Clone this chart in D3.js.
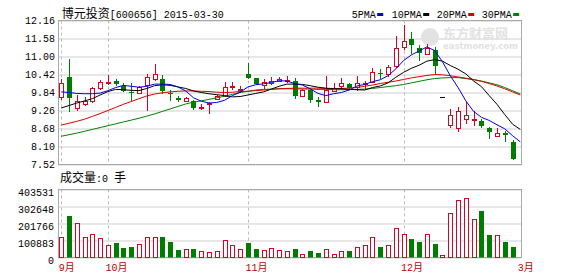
<!DOCTYPE html>
<html>
<head>
<meta charset="utf-8">
<script src="https://cdn.jsdelivr.net/npm/d3@7"></script>
<style>
  body { margin: 0; background: #fff; }
  text { font-family: "Liberation Mono", "Noto Sans CJK SC", monospace; font-size: 10px; }
  .axis .domain { display: none; }
  .axis line { stroke: #cfcfcf; }
  .axis text { fill: #000; }
</style>
</head>
<body>
<svg id="chart" width="578" height="276"></svg>
<script>

// Daily candles (59 trading days)
var opens  = [9.69, 10.33, 9.34, 9.47, 9.57, 9.98, 10.16, 10.22, 10.06, 9.87,
              9.82, 10.09, 10.27, 10.27, 9.84, 9.65, 9.58, 9.57, 9.34, 9.47,
              9.63, 9.73, 10.02, 9.93, 10.44, 10.30, 10.09, 10.14, 10.21, 10.22,
              10.22, 9.74, 9.93, 9.61, 9.53, 9.90, 10.06, 10.11, 10.01, 10.13,
              10.19, 10.46, 10.44, 10.69, 11.30, 11.57, 11.27, 11.08, 11.22, 9.69,
              8.80, 8.71, 8.97, 8.95, 8.92, 8.71, 8.44, 8.52, 8.26];
var highs  = [10.28, 10.92, 9.77, 9.71, 10.03, 10.25, 10.41, 10.27, 10.14, 10.14,
              10.05, 10.44, 10.76, 10.41, 9.93, 9.73, 9.69, 9.60, 9.48, 9.52,
              9.77, 10.17, 10.19, 10.05, 10.80, 10.32, 10.27, 10.33, 10.35, 10.37,
              10.30, 9.95, 9.98, 9.69, 10.37, 10.14, 10.30, 10.16, 10.37, 10.22,
              10.62, 10.59, 10.72, 11.65, 12.00, 11.79, 11.38, 11.40, 11.30, 9.69,
              9.30, 9.37, 9.54, 9.24, 8.97, 8.72, 8.71, 8.60, 8.30];
var lows   = [9.60, 9.21, 9.26, 9.41, 9.50, 9.93, 10.09, 10.05, 9.87, 9.57,
              9.79, 9.26, 10.22, 9.80, 9.55, 9.52, 9.52, 9.28, 9.29, 9.16,
              9.61, 9.71, 9.93, 9.82, 10.27, 10.09, 9.95, 10.09, 10.17, 10.14,
              9.63, 9.71, 9.50, 9.36, 9.50, 9.85, 9.93, 9.93, 9.89, 9.95,
              10.16, 10.27, 10.33, 10.63, 11.22, 11.08, 10.87, 11.04, 10.44, 9.69,
              8.71, 8.58, 8.84, 8.76, 8.71, 8.33, 8.41, 8.23, 7.66];
var closes = [10.14, 9.66, 9.55, 9.57, 9.98, 10.17, 10.19, 10.11, 9.90, 9.85,
              10.01, 10.35, 10.44, 9.90, 9.82, 9.61, 9.66, 9.34, 9.37, 9.50,
              9.73, 10.03, 10.05, 9.95, 10.32, 10.12, 10.17, 10.22, 10.27, 10.25,
              9.73, 9.93, 9.61, 9.52, 9.93, 10.00, 10.16, 10.00, 10.16, 10.16,
              10.49, 10.43, 10.65, 11.29, 11.51, 11.36, 11.11, 11.29, 10.68, 9.69,
              9.12, 9.24, 9.13, 8.97, 8.76, 8.58, 8.55, 8.47, 7.69];
var volumes = [122600, 247000, 205700, 120700, 138500, 114700, 73200, 87000, 57400, 63300,
               79100, 120700, 120700, 122600, 93000, 43500, 49500, 49500, 37600, 31600,
               41500, 102900, 73200, 49500, 87000, 49500, 43500, 55400, 43500, 39600,
               49500, 23700, 39600, 25700, 49500, 23700, 37600, 39600, 61300, 73200,
               118700, 63300, 73200, 172100, 138500, 108800, 93000, 138500, 79100, 17800,
               263100, 340200, 352100, 227500, 277000, 132500, 132500, 93000, 63300];

// Moving averages (60 slots, the last one is today with no trade)
var ma5  = [9.86, 9.84, 9.81, 9.80, 9.80, 9.82, 9.90, 10.00, 10.07, 10.04,
            10.01, 10.04, 10.11, 10.11, 10.10, 10.02, 9.89, 9.67, 9.56, 9.50,
            9.52, 9.59, 9.74, 9.85, 10.02, 10.09, 10.12, 10.16, 10.22, 10.21,
            10.13, 10.08, 9.96, 9.81, 9.74, 9.80, 9.84, 9.92, 10.05, 10.10,
            10.19, 10.25, 10.38, 10.60, 10.87, 11.05, 11.18, 11.31, 11.19, 10.83,
            10.38, 10.00, 9.57, 9.23, 9.04, 8.94, 8.80, 8.67, 8.45, 8.25];
var ma10 = [9.34, 9.42, 9.50, 9.57, 9.64, 9.76, 9.87, 9.94, 9.93, 9.91,
            9.90, 9.97, 10.06, 10.09, 10.07, 10.02, 9.97, 9.89, 9.84, 9.80,
            9.77, 9.74, 9.70, 9.71, 9.76, 9.81, 9.86, 9.95, 10.04, 10.11,
            10.11, 10.10, 10.06, 10.01, 9.98, 9.96, 9.96, 9.94, 9.93, 9.92,
            10.00, 10.05, 10.15, 10.33, 10.49, 10.62, 10.72, 10.85, 10.90, 10.85,
            10.71, 10.59, 10.44, 10.21, 10.03, 9.74, 9.46, 9.13, 8.82, 8.65];
var ma20 = [8.79, 8.85, 8.91, 8.98, 9.07, 9.16, 9.26, 9.36, 9.46, 9.55,
            9.64, 9.73, 9.79, 9.83, 9.86, 9.88, 9.89, 9.89, 9.88, 9.87,
            9.85, 9.84, 9.85, 9.87, 9.88, 9.90, 9.92, 9.94, 9.96, 9.97,
            9.98, 9.98, 9.98, 9.98, 9.97, 9.97, 9.97, 9.98, 10.00, 10.04,
            10.08, 10.13, 10.17, 10.21, 10.26, 10.31, 10.35, 10.39, 10.42, 10.41,
            10.38, 10.34, 10.30, 10.26, 10.20, 10.13, 10.05, 9.96, 9.86, 9.76];
var ma30 = [8.43, 8.48, 8.53, 8.59, 8.65, 8.71, 8.77, 8.83, 8.89, 8.95,
            9.01, 9.08, 9.15, 9.23, 9.31, 9.39, 9.47, 9.53, 9.57, 9.62,
            9.67, 9.72, 9.78, 9.84, 9.88, 9.92, 9.94, 9.95, 9.96, 9.96,
            9.96, 9.95, 9.95, 9.94, 9.94, 9.93, 9.93, 9.93, 9.94, 9.95,
            9.97, 10.00, 10.03, 10.06, 10.10, 10.15, 10.20, 10.25, 10.29, 10.31,
            10.32, 10.32, 10.29, 10.25, 10.21, 10.15, 10.09, 10.00, 9.90, 9.79];

// Axis labels
var priceTicks = [7.52, 8.10, 8.68, 9.26, 9.84, 10.42, 11.00, 11.58, 12.16];
var volumeTicks = [0, 100883, 201766, 302648, 403531];
var monthLabels = ["9月", "10月", "11月", "12月", "3月"];
var monthStart = [0, 6, 24, 44, 59];

var maNames = ["5PMA", "10PMA", "20PMA", "30PMA"];
var maColors = ["#0000dd", "#000000", "#dd0000", "#008000"];

var red = "#dd0022";
var green = "#007d00";

var svg = d3.select("#chart");

// Panel geometry
var left = 58, right = 521.5;
var priceTop = 20.5, priceBottom = 164.5;
var volTop = 189.5, volBottom = 257.5;

var x = d3.scalePoint()
  .domain(d3.range(60))
  .range([61.2, 520.3]);

var yPrice = d3.scaleLinear()
  .domain([7.52, 12.16])
  .range([priceBottom, priceTop]);

var yVol = d3.scaleLinear()
  .domain([0, 403531])
  .range([volBottom, volTop]);

// Gridlines + tick labels
svg.append("g")
  .attr("class", "axis")
  .attr("transform", "translate(" + left + ",0)")
  .call(d3.axisLeft(yPrice).tickValues(priceTicks).tickFormat(d3.format(".2f"))
    .tickSize(-(right - left)).tickPadding(3));

var volAxis = svg.append("g")
  .attr("class", "axis")
  .attr("transform", "translate(" + left + ",0)")
  .call(d3.axisLeft(yVol).tickValues(volumeTicks).tickFormat(d3.format("d"))
    .tickSize(-(right - left)).tickPadding(4));
volAxis.selectAll("text").attr("transform", "translate(0,3)");

// Month dividers
monthStart.slice(0, 4).forEach(function(m) {
  var mx = Math.round(x(m)) + 0.5;
  [[priceTop, priceBottom], [volTop, volBottom]].forEach(function(r) {
    svg.append("line")
      .attr("x1", mx).attr("x2", mx)
      .attr("y1", r[0]).attr("y2", r[1])
      .attr("stroke", "#bbb")
      .attr("stroke-dasharray", "3,3");
  });
});

// Frames
[[priceTop, priceBottom], [volTop, volBottom]].forEach(function(r) {
  svg.append("rect")
    .attr("x", left + 0.5).attr("y", r[0])
    .attr("width", right - left - 0.5).attr("height", r[1] - r[0])
    .attr("fill", "none")
    .attr("stroke", "#a8a8a8");
});

// Watermark
var wm = svg.append("g").attr("fill", "#e2e2e2");
wm.append("circle").attr("cx", 430).attr("cy", 37).attr("r", 9);
wm.append("text").attr("x", 443).attr("y", 38)
  .style("font-family", "'Noto Sans CJK SC'").style("font-size", "13px").style("font-weight", "bold")
  .text("东方财富网");
wm.append("text").attr("x", 443).attr("y", 49)
  .style("font-family", "'DejaVu Sans'").style("font-size", "8.5px").style("font-weight", "bold")
  .text("eastmoney.com");

// Candles
var candles = opens.map(function(o, i) {
  return { i: i, o: o, h: highs[i], l: lows[i], c: closes[i], v: volumes[i] };
});

var candleGroup = svg.append("g");

candles.forEach(function(d) {
  var cx = Math.round(x(d.i));
  var g = candleGroup.append("g");

  if (d.h === d.l) {
    g.append("line")
      .attr("x1", cx - 2).attr("x2", cx + 3)
      .attr("y1", Math.round(yPrice(d.c)) + 0.5).attr("y2", Math.round(yPrice(d.c)) + 0.5)
      .attr("stroke", "#000");
    return;
  }

  var top = Math.round(yPrice(Math.max(d.o, d.c)));
  var bot = Math.round(yPrice(Math.min(d.o, d.c)));
  var hi = Math.round(yPrice(d.h));
  var lo = Math.round(yPrice(d.l));

  if (d.c >= d.o) {
    var h = Math.max(bot - top, 1);
    g.append("line")
      .attr("x1", cx + 0.5).attr("x2", cx + 0.5)
      .attr("y1", hi).attr("y2", top + 0.5)
      .attr("stroke", red);
    g.append("line")
      .attr("x1", cx + 0.5).attr("x2", cx + 0.5)
      .attr("y1", top + h + 0.5).attr("y2", lo)
      .attr("stroke", red);
    g.append("rect")
      .attr("x", cx - 1.5).attr("y", top + 0.5)
      .attr("width", 4).attr("height", h)
      .attr("fill", "#fff")
      .attr("stroke", red);
  } else {
    g.append("line")
      .attr("x1", cx + 0.5).attr("x2", cx + 0.5)
      .attr("y1", hi).attr("y2", lo)
      .attr("stroke", green);
    g.append("rect")
      .attr("x", cx - 2).attr("y", top)
      .attr("width", 5).attr("height", Math.max(bot - top, 1))
      .attr("fill", green);
  }
});

// Moving average lines
var drawLine = d3.line()
  .x(function(d, i) { return x(i); })
  .y(function(d) { return yPrice(d); });

[ma30, ma20, ma10, ma5].forEach(function(series, k) {
  svg.append("path")
    .attr("d", drawLine(series))
    .attr("fill", "none")
    .attr("stroke", maColors[3 - k])
    .attr("stroke-width", 1);
});

// Volume bars
candles.forEach(function(d) {
  var cx = Math.round(x(d.i));
  var vy = Math.round(yVol(d.v));
  if (d.c >= d.o) {
    svg.append("rect")
      .attr("x", cx - 1.5).attr("y", vy + 0.5)
      .attr("width", 4).attr("height", volBottom - vy - 0.5)
      .attr("fill", "#fff")
      .attr("stroke", red);
  } else {
    svg.append("rect")
      .attr("x", cx - 2).attr("y", vy)
      .attr("width", 5).attr("height", volBottom - vy)
      .attr("fill", green);
  }
});

// Title
var title = svg.append("text").attr("x", 61.7).attr("y", 18);
title.append("tspan")
  .style("font-family", "'Noto Sans CJK SC'").style("font-size", "12px")
  .text("博元投资");
title.append("tspan").text("[600656] 2015-03-30");

// Legend
var legendX = [351.7, 391.7, 436.7, 481.7];
maNames.forEach(function(name, k) {
  svg.append("text")
    .attr("x", legendX[k]).attr("y", 17.7)
    .text(name);
  svg.append("rect")
    .attr("x", legendX[k] + name.length * 6 + 1.5).attr("y", 13)
    .attr("width", 6).attr("height", 3)
    .attr("fill", maColors[k]);
});

// Volume caption
var cap = svg.append("text").attr("x", 60).attr("y", 182);
cap.append("tspan")
  .style("font-family", "'Noto Sans CJK SC'").style("font-size", "12px")
  .text("成交量");
cap.append("tspan").text(":0 ");
cap.append("tspan")
  .style("font-family", "'Noto Sans CJK SC'").style("font-size", "12px")
  .text("手");

// Month labels
monthStart.forEach(function(m, k) {
  svg.append("text")
    .attr("x", x(m) - 2.5).attr("y", 271)
    .attr("fill", "#c00000")
    .text(monthLabels[k]);
});

</script>
</body>
</html>
